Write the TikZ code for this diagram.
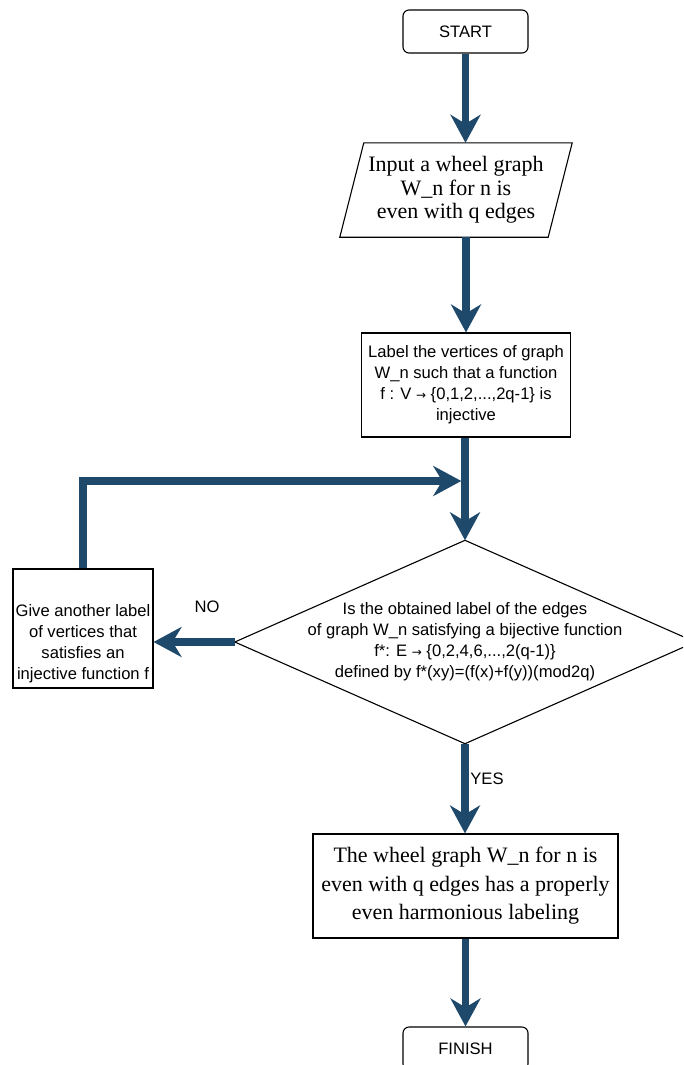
\documentclass[tikz,border=0pt]{standalone}
\usepackage{fontspec}
\setmainfont{Liberation Serif}
\newfontfamily\arialfont{Liberation Sans}
\newfontfamily\arrowfont{DejaVu Sans}
\newcommand{\rarr}{{\arrowfont\fontsize{12}{12}\selectfont →}}
\usetikzlibrary{arrows.meta}
\definecolor{flow}{RGB}{31,73,107}
\tikzset{
  box/.style={draw=black, line width=1.1pt, fill=white, inner sep=0pt},
  outline/.style={draw=black, line width=1.1pt},
  sanstext/.style={font=\arialfont\fontsize{16.6}{21}\selectfont, align=center},
  seriftext/.style={font=\fontsize{22}{28.5}\selectfont, align=center},
  flowarrow/.style={draw=flow, line width=7.5pt, -{Stealth[length=28pt,width=30pt,inset=9pt]}},
}
\begin{document}
\begin{tikzpicture}[x=1pt,y=-1pt]
\useasboundingbox (0,0) rectangle (683,1065);
\clip (0,0) rectangle (683,1065);

% start
\node[box, rounded corners=6pt, minimum width=125pt, minimum height=43pt, sanstext] (start) at (465.5,31.5) {START};

% input parallelogram
\node[seriftext, font=\fontsize{22}{23.5}\selectfont, minimum width=208pt, minimum height=94pt, inner sep=0pt] (inp) at (456,190) {Input a wheel graph\\W\_n for n is\\even with q edges};
\draw[outline] ([xshift=-12pt]inp.south west) -- ([xshift=-12pt]inp.south east) -- ([xshift=12pt]inp.north east) -- ([xshift=12pt]inp.north west) -- cycle;

% label box
\node[box, sanstext, minimum width=209pt, minimum height=104pt] (lab) at (466,385) {Label the vertices of graph\\W\_n such that a function\\f : V \rarr\ \{0,1,2,...,2q-1\} is\\injective};

% decision diamond
\node[sanstext, minimum width=460pt, minimum height=203pt, inner sep=0pt] (dec) at (465,642) {Is the obtained label of the edges\\of graph W\_n satisfying a bijective function\\f*: E \rarr\ \{0,2,4,6,...,2(q-1)\}\\defined by f*(xy)=(f(x)+f(y))(mod2q)};
\draw[outline] (dec.north) -- (dec.east) -- (dec.south) -- (dec.west) -- cycle;

% left box
\node[box, minimum width=140pt, minimum height=119pt] (give) at (83,628.5) {};
\node[sanstext] (givetext) at (83,644) {Give another label\\of vertices that\\satisfies an\\injective function f};

% result box
\node[box, seriftext, minimum width=305pt, minimum height=104pt] (res) at (465.5,886) {The wheel graph W\_n for n is\\even with q edges has a properly\\even harmonious labeling};

% finish
\node[box, rounded corners=6pt, minimum width=125pt, minimum height=43pt, sanstext] (fin) at (465.5,1048.5) {FINISH};

% labels
\node[sanstext] (no) at (207,607) {NO};
\node[sanstext] (yes) at (487,779) {YES};

% connectors
\coordinate (merge) at ([xshift=-3.75pt]dec.north |- 0,481);
\draw[flowarrow] (start.south) -- (start.south |- inp.north);
\draw[flowarrow] (lab.north |- inp.south) -- (lab.north);
\draw[flowarrow] (dec.north |- lab.south) -- (dec.north);
\draw[flowarrow] (give.north) |- (merge);
\draw[flowarrow] (dec.west) -- (dec.west -| give.east);
\draw[flowarrow] (dec.south) -- (dec.south |- res.north);
\draw[flowarrow] (res.south) -- (res.south |- fin.north);
\end{tikzpicture}
\end{document}
